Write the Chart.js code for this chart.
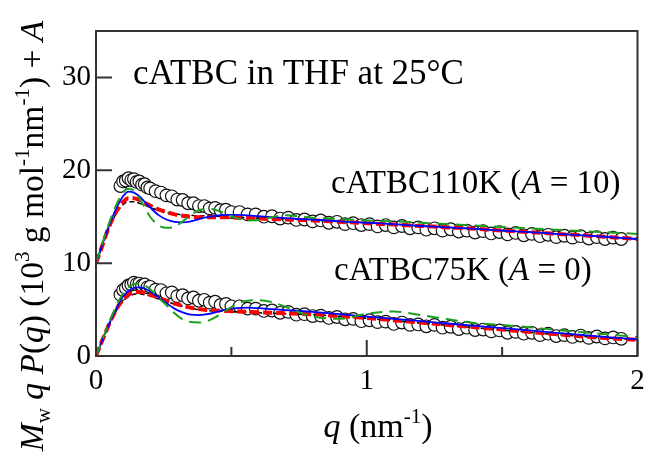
<!DOCTYPE html>
<html>
<head>
<meta charset="utf-8">
<script src="https://cdn.jsdelivr.net/npm/chart.js@4.4.1/dist/chart.umd.min.js"></script>
<style>
  body { margin: 0; background: #fff; }
  #wrap { width: 645px; height: 459px; position: relative; }
</style>
</head>
<body>
<div id="wrap"><canvas id="chart"></canvas></div>
<script>
// measured points, q in nm^-1
const qData = [0.09, 0.10, 0.11, 0.12, 0.13, 0.14, 0.15, 0.16, 0.17, 0.18, 0.19, 0.20,
  0.22, 0.24, 0.26, 0.28, 0.30, 0.32, 0.34, 0.36, 0.38, 0.40, 0.42, 0.44, 0.46, 0.48, 0.50,
  0.53, 0.56, 0.59, 0.62, 0.65, 0.68, 0.71, 0.74, 0.77, 0.80, 0.83, 0.86, 0.89, 0.92, 0.95,
  0.98, 1.01, 1.04, 1.07, 1.10, 1.13, 1.16, 1.19, 1.22, 1.25, 1.28, 1.31, 1.34, 1.37, 1.40,
  1.43, 1.46, 1.49, 1.52, 1.55, 1.58, 1.61, 1.64, 1.67, 1.70, 1.73, 1.76, 1.79, 1.82, 1.85,
  1.88, 1.91, 1.94];
// cATBC75K, A = 0
const data75K = [6.6, 7.1, 7.3, 7.6, 7.7, 7.9, 7.75, 7.8, 7.6, 7.7, 7.4, 7.45,
  7.15, 7.1, 6.75, 6.85, 6.45, 6.55, 6.2, 6.3, 5.95, 6.05, 5.75, 5.85, 5.5, 5.6, 5.35,
  5.35, 5.1, 5.1, 4.85, 4.9, 4.65, 4.75, 4.45, 4.5, 4.3, 4.35, 4.1, 4.2, 3.95, 4.0,
  3.75, 3.85, 3.65, 3.7, 3.45, 3.6, 3.35, 3.4, 3.2, 3.35, 3.05, 3.15, 2.9, 3.05, 2.8,
  2.85, 2.65, 2.75, 2.5, 2.6, 2.4, 2.5, 2.25, 2.4, 2.15, 2.25, 2.05, 2.2, 1.95, 2.1,
  1.9, 2.0, 1.85];
// cATBC110K, A = 10
const data110K = [18.3, 18.8, 18.9, 19.15, 18.95, 19.05, 18.75, 18.8, 18.45, 18.5, 18.15, 18.05,
  17.75, 17.6, 17.3, 17.2, 16.85, 16.8, 16.45, 16.45, 16.15, 16.15, 15.9, 15.95, 15.7, 15.75, 15.5,
  15.5, 15.25, 15.25, 15.0, 15.05, 14.8, 14.9, 14.65, 14.7, 14.5, 14.6, 14.35, 14.45, 14.2, 14.3,
  14.1, 14.2, 13.95, 14.1, 13.85, 14.0, 13.75, 13.85, 13.6, 13.75, 13.5, 13.65, 13.4, 13.5, 13.3,
  13.45, 13.2, 13.35, 13.1, 13.25, 13.0, 13.15, 12.9, 13.05, 12.8, 12.95, 12.75, 12.9, 12.65, 12.8,
  12.6, 12.75, 12.6];

// theoretical curves
const qFit = [0, 0.02, 0.04, 0.06, 0.08, 0.10, 0.12, 0.14, 0.16, 0.18, 0.20, 0.23, 0.26, 0.29,
  0.32, 0.35, 0.38, 0.41, 0.44, 0.48, 0.52, 0.56, 0.60, 0.65, 0.70, 0.75, 0.80, 0.90, 1.0, 1.1,
  1.2, 1.3, 1.4, 1.5, 1.6, 1.7, 1.8, 1.9, 2.0];
const black75K = [0, 1.4, 2.8, 4.05, 5.1, 5.9, 6.4, 6.65, 6.7, 6.6, 6.45, 6.15, 5.85, 5.6,
  5.35, 5.15, 5.0, 4.9, 4.85, 4.8, 4.75, 4.7, 4.65, 4.6, 4.55, 4.5, 4.45, 4.25, 4.05, 3.8,
  3.55, 3.3, 3.05, 2.8, 2.55, 2.3, 2.1, 1.9, 1.75];
const red75K = [0, 1.45, 2.85, 4.15, 5.25, 6.1, 6.6, 6.85, 6.9, 6.8, 6.6, 6.3, 5.95, 5.65,
  5.4, 5.2, 5.05, 4.95, 4.9, 4.85, 4.8, 4.75, 4.7, 4.65, 4.6, 4.55, 4.5, 4.3, 4.1, 3.85,
  3.6, 3.35, 3.1, 2.85, 2.6, 2.35, 2.1, 1.9, 1.75];
const blue75K = [0, 1.45, 2.9, 4.2, 5.4, 6.4, 7.0, 7.35, 7.4, 7.25, 6.95, 6.35, 5.7, 5.1,
  4.7, 4.45, 4.4, 4.5, 4.7, 5.0, 5.15, 5.2, 5.15, 5.05, 4.95, 4.85, 4.75, 4.5, 4.25, 4.0,
  3.75, 3.5, 3.25, 3.0, 2.75, 2.5, 2.25, 2.0, 1.8];
const green75K = [0, 1.5, 3.0, 4.4, 5.7, 6.7, 7.4, 7.75, 7.8, 7.6, 7.2, 6.3, 5.5, 4.6,
  3.95, 3.65, 3.6, 3.75, 4.15, 4.9, 5.6, 5.95, 6.0, 5.8, 5.3, 4.7, 4.25, 4.0, 4.55, 4.8,
  4.4, 3.95, 3.55, 3.35, 3.1, 2.8, 2.55, 2.3, 2.05];
const black110K = [10, 11.6, 13.2, 14.5, 15.6, 16.3, 16.6, 16.6, 16.45, 16.25, 16.0, 15.7, 15.45, 15.3,
  15.2, 15.15, 15.1, 15.1, 15.05, 15.0, 14.95, 14.9, 14.85, 14.8, 14.75, 14.7, 14.65, 14.5, 14.35, 14.2,
  14.0, 13.85, 13.7, 13.5, 13.35, 13.15, 13.0, 12.8, 12.6];
const red110K = [10, 11.6, 13.3, 14.7, 15.8, 16.6, 17.0, 17.0, 16.8, 16.5, 16.2, 15.8, 15.5, 15.25,
  15.1, 15.0, 14.95, 14.95, 14.95, 14.95, 14.9, 14.85, 14.8, 14.75, 14.7, 14.65, 14.6, 14.45, 14.3, 14.15,
  14.0, 13.85, 13.7, 13.5, 13.35, 13.15, 13.0, 12.8, 12.6];
const blue110K = [10, 11.7, 13.4, 14.9, 16.2, 17.2, 17.7, 17.6, 17.2, 16.6, 16.0, 15.2, 14.7, 14.45,
  14.4, 14.5, 14.75, 14.95, 15.1, 15.2, 15.2, 15.15, 15.05, 14.95, 14.85, 14.75, 14.7, 14.5, 14.35, 14.2,
  14.0, 13.85, 13.7, 13.5, 13.35, 13.15, 13.0, 12.8, 12.6];
const green110K = [10, 11.8, 13.6, 15.2, 16.6, 17.6, 18.0, 17.8, 17.0, 16.0, 15.0, 14.1, 13.8, 13.9,
  14.5, 15.2, 15.7, 15.85, 15.75, 15.3, 14.85, 14.6, 14.65, 14.95, 15.15, 15.05, 14.9, 14.75, 14.6, 14.5,
  14.35, 14.2, 14.05, 13.9, 13.75, 13.6, 13.45, 13.3, 13.15];

const xTicks = [0, 1, 2];
const xMinorTicks = [0.5, 1.5];
const yTicks = [0, 10, 20, 30];

const FONT = '"Liberation Serif", "Times New Roman", serif';

function pts(xs, ys) {
    return xs.map((x, i) => ({ x: x, y: ys[i] }));
}

function fitLine(ys, color, width, dash, order) {
    return {
        data: pts(qFit, ys),
        showLine: true,
        borderColor: color,
        borderWidth: width,
        borderDash: dash,
        pointRadius: 0,
        cubicInterpolationMode: 'monotone',
        order: order
    };
}

function circles(ys) {
    return {
        data: pts(qData, ys),
        showLine: false,
        pointRadius: 6.3,
        pointBorderWidth: 1.2,
        pointBorderColor: '#111',
        pointBackgroundColor: '#fff',
        order: 10
    };
}

// rich text: parts are [text, style]; style: '' | 'i' | 'sub' | 'sup'
function drawRich(ctx, parts, x, y, size, align) {
    const fontFor = (st) => {
        const small = st === 'sub' || st === 'sup';
        return (st === 'i' ? 'italic ' : '') + (small ? Math.round(size * 0.62) : size) + 'px ' + FONT;
    };
    let total = 0;
    parts.forEach(p => { ctx.font = fontFor(p[1]); total += ctx.measureText(p[0]).width; });
    let cx = align === 'center' ? x - total / 2 : (align === 'right' ? x - total : x);
    ctx.textAlign = 'left';
    ctx.textBaseline = 'alphabetic';
    ctx.fillStyle = '#000';
    parts.forEach(p => {
        const st = p[1];
        ctx.font = fontFor(st);
        let dy = 0;
        if (st === 'sub') dy = size * 0.22;
        if (st === 'sup') dy = -size * 0.42;
        ctx.fillText(p[0], cx, y + dy);
        cx += ctx.measureText(p[0]).width;
    });
}

const decorPlugin = {
    id: 'decor',
    afterDatasetsDraw(chart) {
        const ctx = chart.ctx;
        const a = chart.chartArea;
        const xs = chart.scales.x, ys = chart.scales.y;
        ctx.save();
        ctx.strokeStyle = '#333';
        ctx.lineWidth = 2;
        ctx.strokeRect(a.left, a.top, a.right - a.left, a.bottom - a.top);
        ctx.beginPath();
        yTicks.forEach(v => {
            const py = ys.getPixelForValue(v);
            ctx.moveTo(a.left, py); ctx.lineTo(a.left + 16, py);
        });
        xTicks.forEach(v => {
            const px = xs.getPixelForValue(v);
            ctx.moveTo(px, a.bottom); ctx.lineTo(px, a.bottom - 16);
        });
        xMinorTicks.forEach(v => {
            const px = xs.getPixelForValue(v);
            ctx.moveTo(px, a.bottom); ctx.lineTo(px, a.bottom - 9);
        });
        ctx.stroke();

        drawRich(ctx, [['cATBC in THF at 25°C', '']], 133, 84, 35, 'left');
        drawRich(ctx, [['cATBC110K (', ''], ['A', 'i'], [' = 10)', '']], 331, 193, 33, 'left');
        drawRich(ctx, [['cATBC75K (', ''], ['A', 'i'], [' = 0)', '']], 334, 280, 33, 'left');

        drawRich(ctx, [['q', 'i'], [' (nm', ''], ['-1', 'sup'], [')', '']], 378, 437, 34, 'center');

        ctx.translate(43, 236);
        ctx.rotate(-Math.PI / 2);
        drawRich(ctx, [['M', 'i'], ['w', 'sub'], [' ', ''], ['q', 'i'], [' ', ''], ['P', 'i'], ['(', ''],
            ['q', 'i'], [') (10', ''], ['3', 'sup'], [' g mol', ''], ['-1', 'sup'], ['nm', ''],
            ['-1', 'sup'], [') + ', ''], ['A', 'i']], 0, 0, 33.5, 'center');
        ctx.restore();
    }
};

new Chart(document.getElementById('chart'), {
    type: 'scatter',
    data: {
        datasets: [
            fitLine(green110K, '#1f9e1f', 2, [12, 7], 0),
            fitLine(blue110K, '#0000ff', 1.8, [], 1),
            fitLine(red110K, '#ff0000', 4, [9, 4], 2),
            fitLine(black110K, '#000', 1.5, [5, 3], 3),
            fitLine(green75K, '#1f9e1f', 2, [12, 7], 0),
            fitLine(blue75K, '#0000ff', 1.8, [], 1),
            fitLine(red75K, '#ff0000', 4, [9, 4], 2),
            fitLine(black75K, '#000', 1.5, [5, 3], 3),
            circles(data110K),
            circles(data75K)
        ]
    },
    options: {
        responsive: true,
        maintainAspectRatio: false,
        animation: false,
        layout: { padding: { top: 31, right: 2, left: 0, bottom: 0 } },
        plugins: { legend: { display: false }, tooltip: { enabled: false } },
        scales: {
            x: {
                type: 'linear',
                min: 0,
                max: 2,
                grid: { display: false, drawTicks: false },
                border: { display: false },
                afterBuildTicks: s => { s.ticks = xTicks.map(v => ({ value: v })); },
                afterFit: s => { s.height = 103; s.paddingLeft = 0; s.paddingRight = 0; },
                ticks: { color: '#000', padding: 8, maxRotation: 0, font: { family: FONT, size: 29 } }
            },
            y: {
                type: 'linear',
                min: 0,
                max: 35,
                grid: { display: false, drawTicks: false },
                border: { display: false },
                afterBuildTicks: s => { s.ticks = yTicks.map(v => ({ value: v })); },
                afterFit: s => { s.width = 96; s.paddingTop = 0; s.paddingBottom = 0; },
                ticks: { color: '#000', padding: 5, font: { family: FONT, size: 29 } }
            }
        }
    },
    plugins: [decorPlugin]
});
</script>
</body>
</html>
